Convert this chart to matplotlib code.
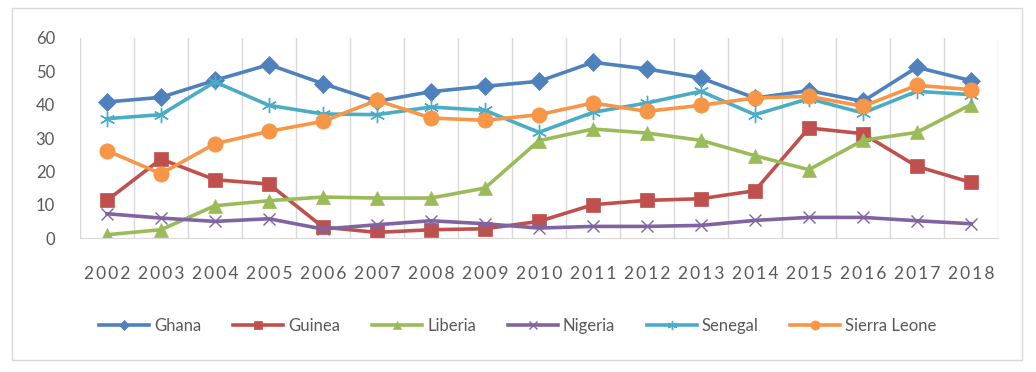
import matplotlib.pyplot as plt
import numpy as np

years = list(range(2002, 2019))
ghana = [40.8, 42.2, 47.3, 52.0, 46.3, 41.0, 43.9, 45.5, 47.0, 52.7, 50.7, 48.0, 42.0, 44.2, 41.0, 51.2, 47.2]
guinea = [11.3, 23.7, 17.5, 16.2, 3.3, 1.7, 2.5, 2.8, 5.0, 10.0, 11.3, 11.8, 14.2, 33.0, 31.3, 21.5, 16.7]
liberia = [1.0, 2.5, 9.7, 11.2, 12.3, 12.0, 12.0, 15.0, 29.2, 32.7, 31.5, 29.3, 24.7, 20.5, 29.3, 31.7, 40.0]
nigeria = [7.3, 6.0, 5.0, 5.8, 2.7, 4.0, 5.2, 4.3, 3.0, 3.5, 3.5, 3.8, 5.3, 6.2, 6.2, 5.2, 4.3]
senegal = [35.8, 37.0, 46.8, 39.8, 37.2, 37.0, 39.3, 38.3, 31.7, 37.7, 40.5, 44.0, 37.0, 41.8, 37.5, 44.0, 43.0]
sierra_leone = [26.2, 19.3, 28.3, 32.0, 35.0, 41.3, 36.0, 35.3, 37.0, 40.5, 38.0, 39.8, 42.0, 42.5, 39.5, 45.8, 44.5]

series = [
    ("Ghana", ghana, "#4F81BD", "D", 9),
    ("Guinea", guinea, "#C0504D", "s", 10),
    ("Liberia", liberia, "#9BBB59", "^", 10),
    ("Nigeria", nigeria, "#8064A2", "x", 9),
    ("Senegal", senegal, "#4BACC6", (6, 2, 0), 11),
    ("Sierra Leone", sierra_leone, "#F79646", "o", 11),
]

plt.rcParams['font.family'] = ['Lato', 'DejaVu Sans']

fig = plt.figure(figsize=(10.36, 3.72), dpi=100)
ax = fig.add_axes([0.0772, 0.36, 0.886, 0.538])

x = np.arange(len(years))
for name, vals, col, mk, ms in series:
    mew = 1.0 if mk in ("x", (6, 2, 0)) else 0.5
    ax.plot(x, vals, color=col, lw=2.6, marker=mk, markersize=ms,
            markeredgewidth=mew, markeredgecolor=col, label=name)

ax.set_xlim(-0.5, len(years) - 0.5)
ax.set_ylim(0, 60)
ax.set_yticks(range(0, 61, 10))
ax.set_xticks(x)
# spaced-out digits like the original
ax.set_xticklabels(["\u2009".join(str(y)) for y in years])
ax.set_xticks(np.arange(-0.5, len(years), 1), minor=True)
ax.grid(True, which='minor', axis='x', color='#D9D9D9', lw=1)
ax.tick_params(axis='x', which='both', length=0, pad=20, labelsize=12.5, colors='#595959')
ax.tick_params(axis='y', length=0, pad=18, labelsize=12, colors='#595959')
for s in ['top', 'right', 'left']:
    ax.spines[s].set_visible(False)
ax.spines['bottom'].set_color('#D9D9D9')

fig.legend(loc='center', bbox_to_anchor=(0.5, 0.124), ncol=6, frameon=False,
           fontsize=12, handlelength=3.0, columnspacing=1.9, handletextpad=0.3,
           markerscale=0.6, labelcolor='#595959')

fig.patches.append(plt.Rectangle((12 / 1036, 1 - 360 / 372), 1010 / 1036, 352 / 372,
                                 transform=fig.transFigure, fill=False,
                                 edgecolor='#D9D9D9', lw=1))

fig.savefig("out.png", dpi=100)
